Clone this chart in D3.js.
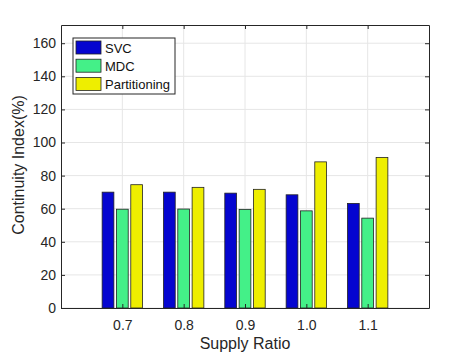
<!DOCTYPE html>
<html>
<head>
<meta charset="utf-8">
<script src="https://cdn.jsdelivr.net/npm/d3@7"></script>
<style>
  body { margin: 0; background: #fff; }
  svg { display: block; font-family: "Liberation Sans", Arial, Helvetica, sans-serif; }
</style>
</head>
<body>
<svg id="chart" width="474" height="355"></svg>
<script>
const categories = [0.7, 0.8, 0.9, 1.0, 1.1];
const categoryLabels = ["0.7", "0.8", "0.9", "1.0", "1.1"];
const seriesNames = ["SVC", "MDC", "Partitioning"];
const svcValues = [70, 70, 69.4, 68.4, 63.2];
const mdcValues = [59.7, 59.8, 59.6, 58.7, 54.3];
const partValues = [74.5, 72.9, 71.7, 88.3, 91];
const yTicks = [0, 20, 40, 60, 80, 100, 120, 140, 160];
const colors = ["#0505d0", "#44f088", "#eeee00"];

const series = [svcValues, mdcValues, partValues];

const svg = d3.select("#chart");
const mLeft = 61, mRight = 429, mTop = 25, mBottom = 308;

const x = d3.scaleLinear().domain([0.6, 1.2]).range([mLeft, mRight]);
const y = d3.scaleLinear().domain([0, 171]).range([mBottom, mTop]);
const offset = d3.scaleBand().domain(d3.range(series.length)).range([-20.2, 20.2]).paddingInner(0.18);

// grid
const grid = svg.append("g");
grid.selectAll(".gy").data(yTicks).join("line")
  .attr("x1", mLeft).attr("x2", mRight)
  .attr("y1", d => y(d)).attr("y2", d => y(d))
  .attr("stroke", "#e6e6e6").attr("stroke-width", 1);
grid.selectAll(".gx").data(categories).join("line")
  .attr("x1", d => x(d)).attr("x2", d => x(d))
  .attr("y1", mTop).attr("y2", mBottom)
  .attr("stroke", "#e6e6e6").attr("stroke-width", 1);

// bars
series.forEach((vals, si) => {
  svg.append("g").selectAll("rect").data(vals).join("rect")
    .attr("x", (d, i) => x(categories[i]) + offset(si))
    .attr("width", offset.bandwidth())
    .attr("y", d => y(d))
    .attr("height", d => y(0) - y(d))
    .attr("fill", colors[si])
    .attr("stroke", "#222")
    .attr("stroke-width", 0.8);
});

// axes
const axL = svg.append("g").attr("transform", `translate(${mLeft},0)`)
  .call(d3.axisLeft(y).tickValues(yTicks).tickSizeInner(-4).tickSizeOuter(0).tickPadding(5));
const axR = svg.append("g").attr("transform", `translate(${mRight},0)`)
  .call(d3.axisRight(y).tickValues(yTicks).tickSizeInner(-4).tickSizeOuter(0).tickFormat(""));
const axB = svg.append("g").attr("transform", `translate(0,${mBottom})`)
  .call(d3.axisBottom(x).tickValues(categories).tickFormat((d, i) => categoryLabels[i]).tickSizeInner(-4).tickSizeOuter(0).tickPadding(12));
const axT = svg.append("g").attr("transform", `translate(0,${mTop})`)
  .call(d3.axisTop(x).tickValues(categories).tickSizeInner(-4).tickSizeOuter(0).tickFormat(""));
[axL, axR, axB, axT].forEach(a => {
  a.selectAll(".domain").attr("stroke", "#262626");
  a.selectAll(".tick line").attr("stroke", "#262626");
  a.selectAll("text").attr("fill", "#262626").style("font-size", "14px").style("font-family", "'Liberation Sans', Arial, sans-serif");
});

// axis labels
svg.append("text").attr("x", (mLeft + mRight) / 2).attr("y", 349)
  .attr("text-anchor", "middle").attr("fill", "#262626").style("font-size", "16px")
  .text("Supply Ratio");
svg.append("text").attr("transform", `translate(24,165) rotate(-90)`)
  .attr("text-anchor", "middle").attr("fill", "#262626").style("font-size", "16px")
  .text("Continuity Index(%)");

// legend
const lg = svg.append("g");
lg.append("rect").attr("x", 73).attr("y", 38).attr("width", 102).attr("height", 56)
  .attr("fill", "#fff").attr("stroke", "#262626").attr("stroke-width", 1);
seriesNames.forEach((name, i) => {
  const yy = 41 + i * 18.2;
  lg.append("rect").attr("x", 76).attr("y", yy).attr("width", 25).attr("height", 13)
    .attr("fill", colors[i]).attr("stroke", "#222").attr("stroke-width", 0.8);
  lg.append("text").attr("x", 105).attr("y", yy + 11.5).attr("fill", "#111")
    .style("font-size", "13px").text(name);
});
</script>
</body>
</html>
